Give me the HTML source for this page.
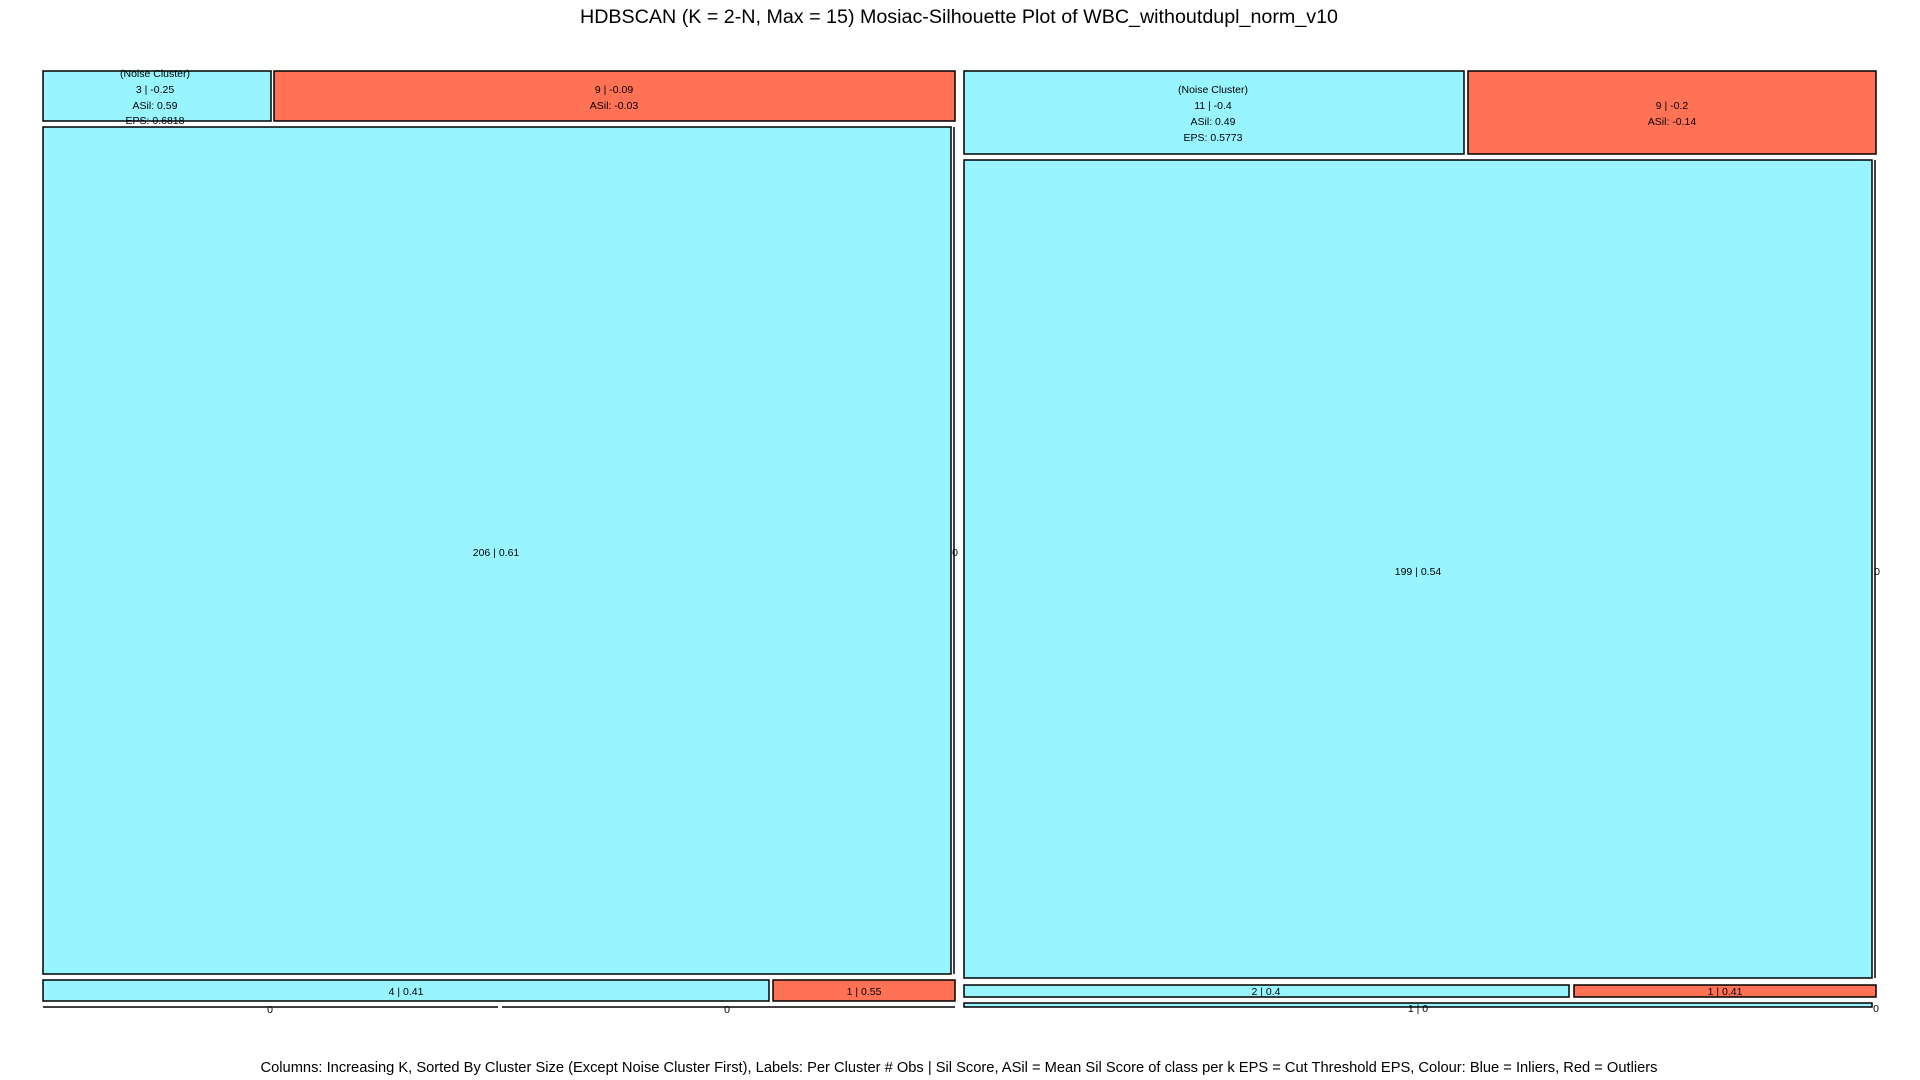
<!DOCTYPE html>
<html><head><meta charset="utf-8"><style>
html,body{margin:0;padding:0;background:#fff;}
svg{display:block;}
text{font-family:"Liberation Sans",Arial,sans-serif;fill:#000;}
</style></head><body>
<svg width="1920" height="1080" viewBox="0 0 1920 1080" xmlns="http://www.w3.org/2000/svg">
<g stroke="#000" stroke-width="1.5">
<!-- left column -->
<rect x="43" y="71" width="228" height="50" fill="#98F5FF"/>
<rect x="274" y="71" width="681" height="50" fill="#FF7256"/>
<rect x="43" y="127" width="908" height="847" fill="#98F5FF"/>
<line x1="954" y1="127" x2="954" y2="974"/>
<rect x="43" y="980" width="726" height="21" fill="#98F5FF"/>
<rect x="773" y="980" width="182" height="21" fill="#FF7256"/>
<line x1="43" y1="1007" x2="498" y2="1007"/>
<line x1="502" y1="1007" x2="955" y2="1007"/>
<!-- right column -->
<rect x="964" y="71" width="500" height="83" fill="#98F5FF"/>
<rect x="1468" y="71" width="408" height="83" fill="#FF7256"/>
<rect x="964" y="160" width="908" height="818" fill="#98F5FF"/>
<line x1="1875" y1="160" x2="1875" y2="978"/>
<rect x="964" y="985" width="605" height="12" fill="#98F5FF"/>
<rect x="1574" y="985" width="302" height="12" fill="#FF7256"/>
<rect x="964" y="1003" width="908" height="4" fill="#98F5FF"/>
</g>
<text x="959" y="23" font-size="19" text-anchor="middle" textLength="758" lengthAdjust="spacingAndGlyphs">HDBSCAN (K = 2-N, Max = 15) Mosiac-Silhouette Plot of WBC_withoutdupl_norm_v10</text>
<g font-size="10.5" text-anchor="middle">
<text x="155" y="77">(Noise Cluster)</text>
<text x="155" y="93">3 | -0.25</text>
<text x="155" y="109">ASil: 0.59</text>
<text x="155" y="124">EPS: 0.6818</text>
<text x="614" y="93">9 | -0.09</text>
<text x="614" y="109">ASil: -0.03</text>
<text x="496" y="556">206 | 0.61</text>
<text x="955" y="556">0</text>
<text x="406" y="995">4 | 0.41</text>
<text x="864" y="995">1 | 0.55</text>
<text x="270" y="1013">0</text>
<text x="727" y="1013">0</text>
<text x="1213" y="93">(Noise Cluster)</text>
<text x="1213" y="109">11 | -0.4</text>
<text x="1213" y="125">ASil: 0.49</text>
<text x="1213" y="141">EPS: 0.5773</text>
<text x="1672" y="109">9 | -0.2</text>
<text x="1672" y="125">ASil: -0.14</text>
<text x="1418" y="575">199 | 0.54</text>
<text x="1877" y="575">0</text>
<text x="1266" y="995">2 | 0.4</text>
<text x="1725" y="995">1 | 0.41</text>
<text x="1418" y="1012">1 | 0</text>
<text x="1876" y="1012">0</text>
</g>
<text x="959" y="1072" font-size="15" text-anchor="middle" textLength="1397" lengthAdjust="spacingAndGlyphs">Columns: Increasing K, Sorted By Cluster Size (Except Noise Cluster First), Labels: Per Cluster # Obs | Sil Score, ASil = Mean Sil Score of class per k EPS = Cut Threshold EPS, Colour: Blue = Inliers, Red = Outliers</text>
</svg>
</body></html>
